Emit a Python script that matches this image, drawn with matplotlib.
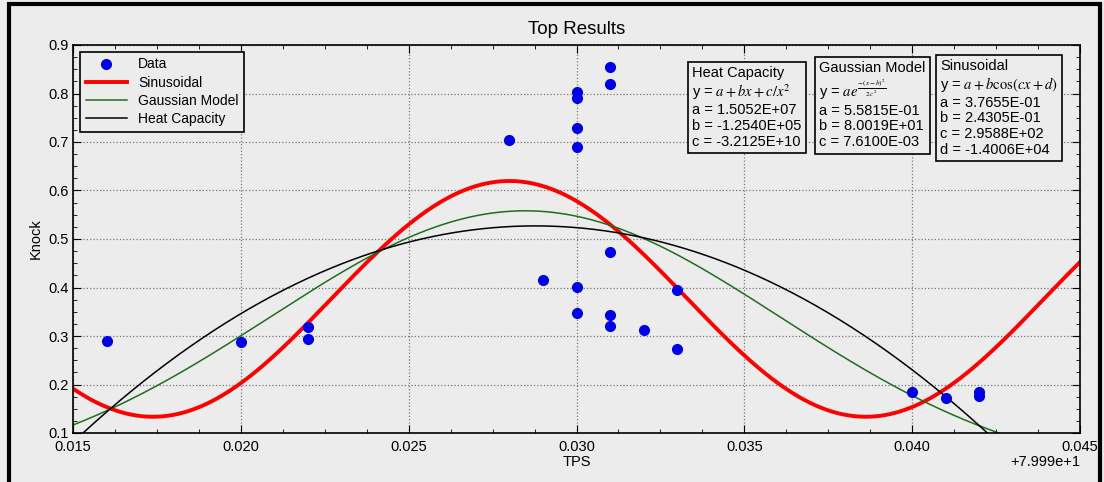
import numpy as np
import matplotlib
matplotlib.use('Agg')
import matplotlib.pyplot as plt
from matplotlib.ticker import MultipleLocator, AutoMinorLocator
from matplotlib.patches import Rectangle

plt.rcParams['font.family'] = ['Liberation Sans', 'DejaVu Sans']
plt.rcParams['mathtext.fontset'] = 'stix'

# TPS values are shown relative to the offset 79.99
tps = [0.016, 0.020, 0.022, 0.022, 0.028, 0.029, 0.030, 0.030, 0.030, 0.030,
       0.030, 0.030, 0.031, 0.031, 0.031, 0.031, 0.031, 0.032, 0.033, 0.033,
       0.040, 0.041, 0.042, 0.042]
knock = [0.290, 0.288, 0.319, 0.294, 0.704, 0.415, 0.804, 0.790, 0.729, 0.689,
         0.401, 0.348, 0.854, 0.820, 0.473, 0.343, 0.321, 0.312, 0.394, 0.273,
         0.185, 0.173, 0.184, 0.176]

# fitted model parameters (phase / centre, offset x)
sin_a, sin_b, sin_c, sin_x0 = 0.37655, 0.24305, 295.88, 0.0280
gau_a, gau_b, gau_c = 0.55815, 0.02847, 0.00761
hc_peak, hc_x0, hc_k = 0.527, 0.02877, 2353.0

x = np.linspace(0.015, 0.045, 600)
y_sin = sin_a + sin_b * np.cos(sin_c * (x - sin_x0))
y_gau = gau_a * np.exp(-(x - gau_b) ** 2 / (2 * gau_c ** 2))
y_hc = hc_peak - hc_k * (x - hc_x0) ** 2

bg = '#ececec'
fig = plt.figure(figsize=(11.04, 4.82), dpi=100, facecolor=bg)
ax = fig.add_axes([73 / 1104, 1 - 433 / 482, (1080 - 73) / 1104, (433 - 45) / 482])
ax.set_facecolor(bg)

ax.plot(tps, knock, 'o', color='#0000e6', markersize=7, label='Data', zorder=5)
ax.plot(x, y_sin, color='#ff0000', lw=2.8, label='Sinusoidal')
ax.plot(x, y_gau, color='#1e6e1e', lw=1.1, label='Gaussian Model')
ax.plot(x, y_hc, color='black', lw=1.1, label='Heat Capacity')

ax.set_xlim(0.015, 0.045)
ax.set_ylim(0.1, 0.9)
ax.xaxis.set_major_locator(MultipleLocator(0.005))
ax.yaxis.set_major_locator(MultipleLocator(0.1))
ax.xaxis.set_minor_locator(AutoMinorLocator(4))
ax.yaxis.set_minor_locator(AutoMinorLocator(4))
ax.xaxis.set_major_formatter(plt.FuncFormatter(lambda v, p: f'{v:.3f}'))
ax.yaxis.set_major_formatter(plt.FuncFormatter(lambda v, p: f'{v:.1f}'))
ax.tick_params(which='both', direction='in', top=True, right=True, labelsize=10.5)
ax.tick_params(which='major', length=6)
ax.tick_params(which='minor', length=3)
ax.tick_params(axis='y', pad=3)
ax.tick_params(axis='x', pad=5)
ax.grid(True, which='major', linestyle=':', color='#777777', lw=0.9)
for s in ax.spines.values():
    s.set_linewidth(1.2)

ax.set_title('Top Results', fontsize=13.5, pad=8)
ax.set_xlabel('TPS', fontsize=10.5, labelpad=1)
ax.set_ylabel('Knock', fontsize=10.5)
ax.text(1.0, -0.074, '+7.999e+1', transform=ax.transAxes, ha='right', va='center',
        fontsize=10.5)

leg = ax.legend(loc='upper left', fontsize=10, frameon=True, fancybox=False,
                edgecolor='black', facecolor=bg, framealpha=1,
                borderaxespad=0.5, handlelength=3.0, labelspacing=0.3)
leg.get_frame().set_linewidth(1.2)

box = dict(boxstyle='square,pad=0.3', fc=bg, ec='black', lw=1.2)
fig.text(692 / 1104, 1 - 66 / 482,
         'Heat Capacity\ny = $a+bx+c/x^2$\na = 1.5052E+07\nb = -1.2540E+05\nc = -3.2125E+10',
         ha='left', va='top', fontsize=10.5, bbox=box, linespacing=1.15)
fig.text(819 / 1104, 1 - 61 / 482,
         'Gaussian Model\ny = $ae^{\\frac{-(x-b)^2}{2c^2}}$\na = 5.5815E-01\nb = 8.0019E+01\nc = 7.6100E-03',
         ha='left', va='top', fontsize=10.5, bbox=box, linespacing=1.15)
fig.text(940 / 1104, 1 - 59 / 482,
         'Sinusoidal\ny = $a+b\\cos(cx+d)$\na = 3.7655E-01\nb = 2.4305E-01\nc = 2.9588E+02\nd = -1.4006E+04',
         ha='left', va='top', fontsize=10.5, bbox=box, linespacing=1.15)

# window frame
fig.add_artist(Rectangle((9 / 1104, -0.05), (1100 - 9) / 1104, 1.05 - 4 / 482,
                         transform=fig.transFigure, fill=False, ec='black', lw=3))

fig.savefig('out.png', dpi=100, facecolor=bg)
